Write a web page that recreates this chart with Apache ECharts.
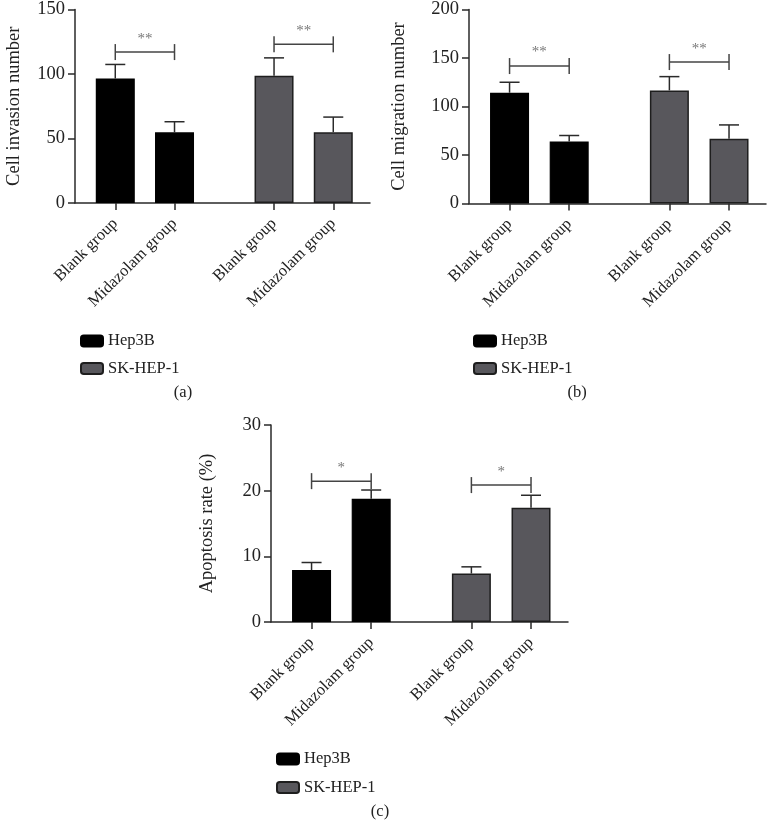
<!DOCTYPE html>
<html>
<head>
<meta charset="utf-8">
<script src="https://cdn.jsdelivr.net/npm/echarts@6/dist/echarts.min.js"></script>
<style>
html,body{margin:0;padding:0;background:#fff;}
#chart{width:768px;height:820px;}
</style>
</head>
<body>
<div id="chart"></div>
<script>
// ---- data ----
const groupNames = ['Blank group', 'Midazolam group'];
const lineNames = ['Hep3B', 'SK-HEP-1'];
// x positions of bars (Hep3B pair, SK-HEP-1 pair)
const hepPos = [1, 2];
const skPos = [3.68, 4.68];

// (a) Cell invasion number
const invasionHep = [96.5, 54.8];
const invasionHepSD = [10.9, 8.2];
const invasionSK = [98.7, 54.9];
const invasionSKSD = [13.8, 11.7];
const invasionBrackets = [117, 123];
const invasionStars = ['**', '**'];

// (b) Cell migration number
const migrationHep = [114.2, 64.0];
const migrationHepSD = [10.8, 6.1];
const migrationSK = [116.6, 66.8];
const migrationSKSD = [14.2, 14.2];
const migrationBrackets = [141.7, 145.8];
const migrationStars = ['**', '**'];

// (c) Apoptosis rate (%)
const apoptosisHep = [7.9, 18.76];
const apoptosisHepSD = [1.16, 1.34];
const apoptosisSK = [7.38, 17.4];
const apoptosisSKSD = [1.02, 1.9];
const apoptosisBrackets = [21.45, 20.85];
const apoptosisStars = ['*', '*'];

const yTitles = ['Cell invasion number', 'Cell migration number', 'Apoptosis rate (%)'];
const yMax = [150, 200, 30];
const yInterval = [50, 50, 10];
const panelLabels = ['(a)', '(b)', '(c)'];

// ---- styling ----
const FONT = 'Liberation Serif';
const AXIS_COLOR = '#2a2a2a';
const HEP_COLOR = '#000000';
const SK_COLOR = '#58575c';

const grids = [
  {left: 75, top: 7, width: 295, height: 196},
  {left: 469, top: 7, width: 297, height: 196.5},
  {left: 271, top: 425, width: 297, height: 197}
];
const nameGaps = [51, 60, 54];
const allPos = hepPos.concat(skPos);
const allNames = groupNames.concat(groupNames);

const panels = [
  {hep: invasionHep, hepSD: invasionHepSD, sk: invasionSK, skSD: invasionSKSD, br: invasionBrackets, stars: invasionStars},
  {hep: migrationHep, hepSD: migrationHepSD, sk: migrationSK, skSD: migrationSKSD, br: migrationBrackets, stars: migrationStars},
  {hep: apoptosisHep, hepSD: apoptosisHepSD, sk: apoptosisSK, skSD: apoptosisSKSD, br: apoptosisBrackets, stars: apoptosisStars}
];

const xAxes = [], yAxes = [], series = [];

panels.forEach((p, i) => {
  xAxes.push({
    gridIndex: i, type: 'value', min: 0.32, max: 5.3,
    splitLine: {show: false},
    axisLine: {show: true, onZero: false, lineStyle: {color: AXIS_COLOR, width: 1.5}},
    axisTick: {show: true, customValues: allPos, length: 7, lineStyle: {color: AXIS_COLOR, width: 1.5}},
    axisLabel: {
      customValues: allPos, rotate: 45, margin: 18,
      fontFamily: FONT, fontSize: 16.5, color: '#222',
      formatter: v => {
        const k = allPos.findIndex(q => Math.abs(q - v) < 1e-6);
        return k >= 0 ? allNames[k] : '';
      }
    }
  });
  yAxes.push({
    gridIndex: i, type: 'value', min: 0, max: yMax[i], interval: yInterval[i],
    name: yTitles[i], nameLocation: 'middle', nameGap: nameGaps[i],
    nameTextStyle: {fontFamily: FONT, fontSize: 18.5, color: '#222'},
    splitLine: {show: false},
    axisLine: {show: true, lineStyle: {color: AXIS_COLOR, width: 1.5}},
    axisTick: {show: true, length: 7, lineStyle: {color: AXIS_COLOR, width: 1.5}},
    axisLabel: {fontFamily: FONT, fontSize: 18.5, color: '#222', margin: 10}
  });

  series.push({
    name: lineNames[0], type: 'bar', xAxisIndex: i, yAxisIndex: i,
    barWidth: 39, barGap: '-100%',
    itemStyle: {color: HEP_COLOR, borderColor: '#000', borderWidth: 1.2},
    data: hepPos.map((x, k) => [x, p.hep[k]])
  });
  series.push({
    name: lineNames[1], type: 'bar', xAxisIndex: i, yAxisIndex: i,
    barWidth: 39, barGap: '-100%',
    itemStyle: {color: SK_COLOR, borderColor: '#1e1e1e', borderWidth: 1.5},
    data: skPos.map((x, k) => [x, p.sk[k]])
  });

  // error bars (upper only)
  const errData = hepPos.map((x, k) => [x, p.hep[k], p.hep[k] + p.hepSD[k]])
    .concat(skPos.map((x, k) => [x, p.sk[k], p.sk[k] + p.skSD[k]]));
  series.push({
    type: 'custom', xAxisIndex: i, yAxisIndex: i, z: 5, silent: true,
    data: errData,
    renderItem: (params, api) => {
      const base = api.coord([api.value(0), api.value(1)]);
      const top = api.coord([api.value(0), api.value(2)]);
      const st = {stroke: AXIS_COLOR, lineWidth: 1.5};
      return {type: 'group', children: [
        {type: 'line', shape: {x1: base[0], y1: base[1], x2: top[0], y2: top[1]}, style: st},
        {type: 'line', shape: {x1: top[0] - 10, y1: top[1], x2: top[0] + 10, y2: top[1]}, style: st}
      ]};
    }
  });

  // significance brackets
  const brData = [[hepPos[0], hepPos[1], p.br[0]], [skPos[0], skPos[1], p.br[1]]];
  series.push({
    type: 'custom', xAxisIndex: i, yAxisIndex: i, z: 5, silent: true,
    data: brData,
    renderItem: (params, api) => {
      const a = api.coord([api.value(0), api.value(2)]);
      const b = api.coord([api.value(1), api.value(2)]);
      const st = {stroke: '#444', lineWidth: 1.5};
      return {type: 'group', children: [
        {type: 'line', shape: {x1: a[0], y1: a[1], x2: b[0], y2: b[1]}, style: st},
        {type: 'line', shape: {x1: a[0], y1: a[1] - 8, x2: a[0], y2: a[1] + 8}, style: st},
        {type: 'line', shape: {x1: b[0], y1: b[1] - 8, x2: b[0], y2: b[1] + 8}, style: st},
        {type: 'text', style: {
          text: p.stars[params.dataIndex], x: (a[0] + b[0]) / 2, y: a[1] - 6,
          textAlign: 'center', textVerticalAlign: 'bottom',
          font: '15px "' + FONT + '"', fill: '#777'
        }}
      ]};
    }
  });
});

const legendBase = {
  orient: 'vertical', itemWidth: 22, itemHeight: 11, itemGap: 10.5,
  selectedMode: false,
  textStyle: {fontFamily: FONT, fontSize: 16.5, color: '#222', lineHeight: 16},
  data: lineNames
};

const option = {
  animation: false,
  backgroundColor: '#fff',
  grid: grids,
  xAxis: xAxes,
  yAxis: yAxes,
  legend: [
    Object.assign({}, legendBase, {left: 75, top: 327.5}),
    Object.assign({}, legendBase, {left: 468, top: 327.5}),
    Object.assign({}, legendBase, {left: 271, top: 745.5, itemGap: 11.5})
  ],
  graphic: [
    {type: 'text', x: 183, y: 393, style: {text: panelLabels[0], textAlign: 'center', textVerticalAlign: 'middle', font: '16.5px "' + FONT + '"', fill: '#222'}},
    {type: 'text', x: 577, y: 393, style: {text: panelLabels[1], textAlign: 'center', textVerticalAlign: 'middle', font: '16.5px "' + FONT + '"', fill: '#222'}},
    {type: 'text', x: 380, y: 812, style: {text: panelLabels[2], textAlign: 'center', textVerticalAlign: 'middle', font: '16.5px "' + FONT + '"', fill: '#222'}}
  ],
  series: series
};

const chart = echarts.init(document.getElementById('chart'), null, {renderer: 'canvas'});
chart.setOption(option);
</script>
</body>
</html>
